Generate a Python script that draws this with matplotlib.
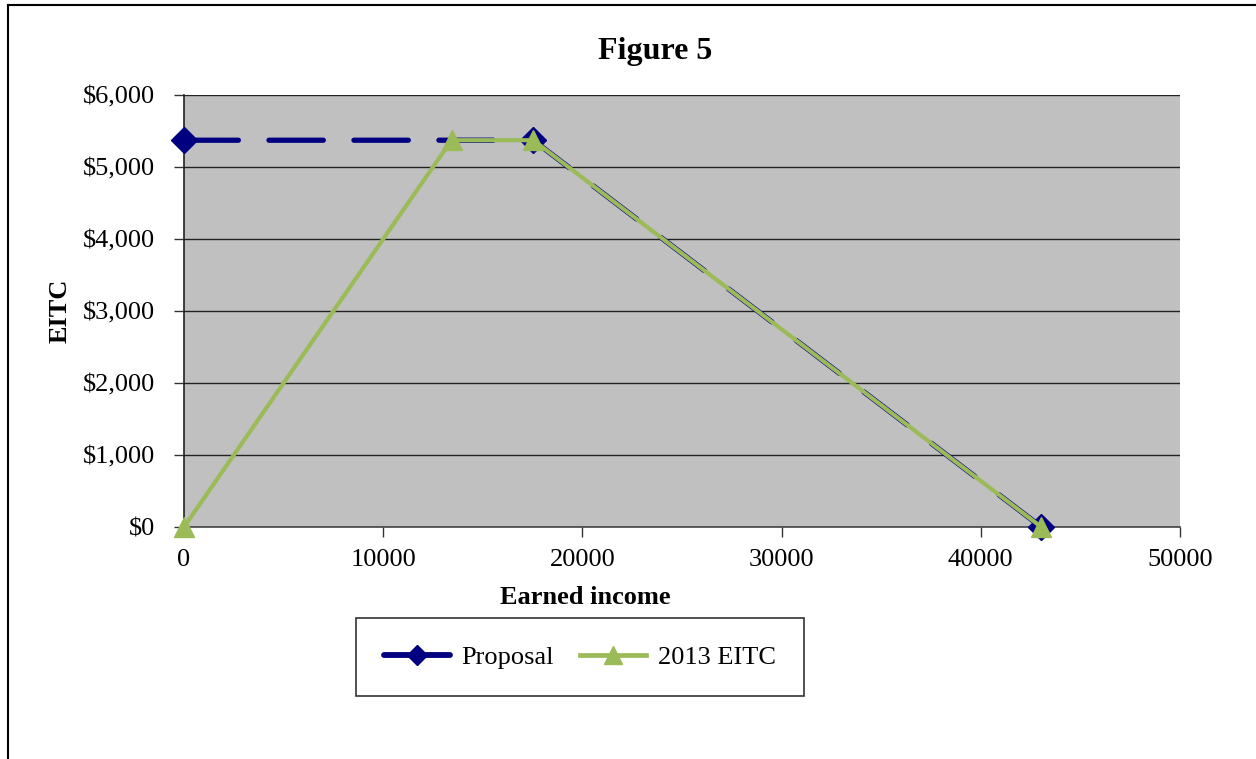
import matplotlib
matplotlib.use("Agg")
import matplotlib.pyplot as plt
from matplotlib.lines import Line2D
from matplotlib.ticker import FuncFormatter

# Data
proposal_x = [0, 17530, 43038]
proposal_y = [5372, 5372, 0]
eitc_x = [0, 13430, 17530, 43038]
eitc_y = [0, 5372, 5372, 0]
x_ticks = [0, 10000, 20000, 30000, 40000, 50000]
y_ticks = [0, 1000, 2000, 3000, 4000, 5000, 6000]

plt.rcParams['font.family'] = ['Liberation Serif', 'DejaVu Serif']

W, H = 1256, 759
fig = plt.figure(figsize=(W / 100, H / 100), dpi=100)
fig.patch.set_facecolor('white')

ax = fig.add_axes([184 / W, 1 - 527 / H, (1180 - 184) / W, (527 - 95) / H])
ax.set_facecolor('#C0C0C0')

navy = '#000080'
green = '#9BBB59'

ax.plot(proposal_x, proposal_y, color=navy, lw=3.8, dashes=(10.3, 5.8),
        dash_capstyle='round', marker='D', markersize=13, markerfacecolor=navy,
        markeredgecolor=navy, clip_on=False, zorder=3)
ax.plot(eitc_x, eitc_y, color=green, lw=3.0, marker='^', markersize=15,
        markerfacecolor=green, markeredgecolor=green, clip_on=False, zorder=4)

ax.set_xlim(0, 50000)
ax.set_ylim(0, 6000)
ax.set_xticks(x_ticks)
ax.set_yticks(y_ticks)
ax.xaxis.set_major_formatter(FuncFormatter(lambda v, p: f"{int(v)}"))
ax.yaxis.set_major_formatter(FuncFormatter(lambda v, p: f"${int(v):,}"))
ax.tick_params(axis='both', direction='out', length=7, width=1, color='#333333',
               labelsize=19)
ax.tick_params(axis='y', pad=14)
ax.tick_params(axis='x', pad=9)
ax.grid(axis='y', color='#222222', lw=1.0)
ax.set_axisbelow(True)
for s in ['top', 'right']:
    ax.spines[s].set_visible(False)
ax.spines['left'].set_color('#222222')
ax.spines['bottom'].set_color('#444444')
ax.spines['left'].set_linewidth(1.2)
ax.spines['bottom'].set_linewidth(1.2)

fig.text(655 / W, 1 - 51 / H, 'Figure 5', ha='center', va='center',
         fontsize=23, fontweight='bold')
fig.text(585 / W, 1 - 598 / H, 'Earned income', ha='center', va='center',
         fontsize=19, fontweight='bold')
fig.text(60 / W, 1 - 311 / H, 'EITC', ha='center', va='center',
         fontsize=19, fontweight='bold', rotation=90)

handles = [
    Line2D([0], [0], color=navy, lw=4.2, marker='D', markersize=10,
           markerfacecolor=navy, markeredgecolor=navy, solid_capstyle='round'),
    Line2D([0], [0], color=green, lw=3.4, marker='^', markersize=13,
           markerfacecolor=green, markeredgecolor=green),
]
leg = fig.legend(handles, ['Proposal', '2013 EITC'], loc='center',
                 bbox_to_anchor=(580 / W, 1 - 657 / H), ncol=2, fontsize=19,
                 frameon=True, fancybox=False, edgecolor='black',
                 handlelength=2.5, handletextpad=0.45, columnspacing=1.0,
                 borderpad=1.05, borderaxespad=0)
leg.get_frame().set_linewidth(1.2)
leg.get_frame().set_boxstyle('square', pad=0.0)

# outer frame (top and left edges visible)
fig.add_artist(Line2D([8 / W, 1.0], [1 - 5 / H, 1 - 5 / H], color='black', lw=1.5,
                      transform=fig.transFigure))
fig.add_artist(Line2D([8 / W, 8 / W], [1 - 5 / H, 0], color='black', lw=1.5,
                      transform=fig.transFigure))

fig.savefig('out.png', dpi=100, facecolor='white')
